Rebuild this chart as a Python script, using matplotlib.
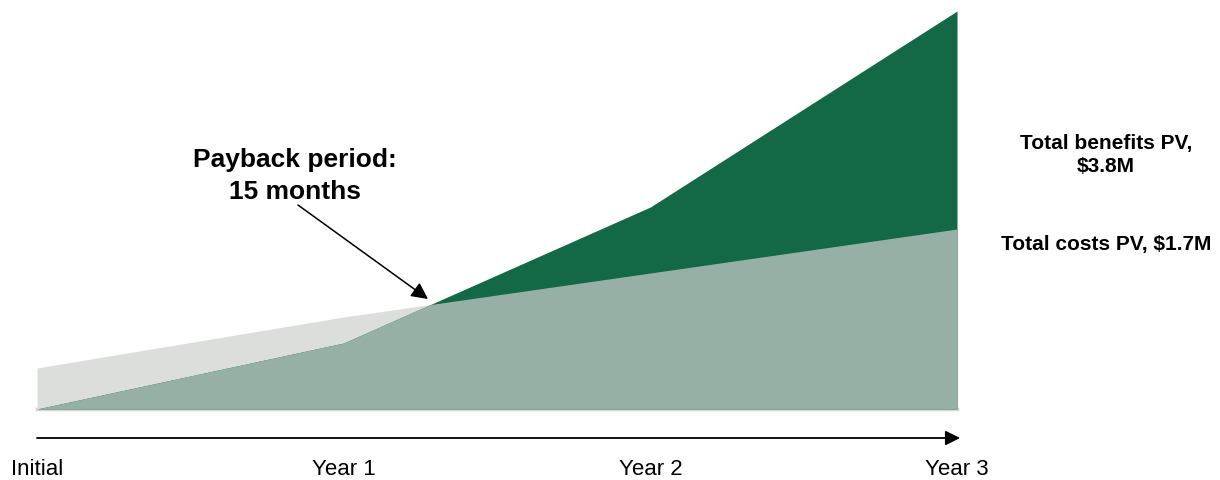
import numpy as np
import matplotlib
matplotlib.use("Agg")
import matplotlib.pyplot as plt

plt.rcParams['font.family'] = ['Liberation Sans', 'DejaVu Sans']

# data (relative heights)
periods = ["Initial", "Year 1", "Year 2", "Year 3"]
costs = [0.41, 0.92, 1.36, 1.80]
benefits = [0.00, 0.66, 2.02, 3.98]

dark_green = "#136846"
mix_green = "#97b0a5"
light_gray = "#dcdedc"

x = np.arange(len(periods))
c = np.array(costs)
b = np.array(benefits)

# find crossing points so the min/max fills have clean edges
xs = [x[0]]
cs = [c[0]]
bs = [b[0]]
for i in range(len(x) - 1):
    d0 = b[i] - c[i]
    d1 = b[i + 1] - c[i + 1]
    if d0 * d1 < 0:
        t = d0 / (d0 - d1)
        xs.append(x[i] + t)
        cs.append(c[i] + t * (c[i + 1] - c[i]))
        bs.append(b[i] + t * (b[i + 1] - b[i]))
    xs.append(x[i + 1])
    cs.append(c[i + 1])
    bs.append(b[i + 1])
xs = np.array(xs)
cs = np.array(cs)
bs = np.array(bs)

fig = plt.figure(figsize=(12.2, 4.81), dpi=100)
ax = fig.add_axes([0, 0, 1, 1])

ax.plot([x[0], x[-1]], [0, 0], color="#d4d4d4", lw=2.5, zorder=1)
ax.fill_between(xs, 0, cs, color=light_gray, lw=0, zorder=2)
ax.fill_between(xs, 0, bs, color=dark_green, lw=0, zorder=2)
ax.fill_between(xs, 0, np.minimum(cs, bs), color=mix_green, lw=0, zorder=3)

# time axis arrow
ax.annotate("", xy=(3.01, -0.29), xytext=(x[0], -0.29),
            arrowprops=dict(arrowstyle="-|>", color="black", lw=1.3,
                            mutation_scale=22, shrinkA=0, shrinkB=0))
for xi, lab in zip(x, periods):
    ax.text(xi, -0.60, lab, ha="center", va="center", fontsize=16)

# payback annotation
ax.text(0.841, 2.34, "Payback period:\n15 months", ha="center", va="center",
        fontsize=19, fontweight="bold", linespacing=1.4)
ax.annotate("", xy=(1.275, 1.10), xytext=(0.851, 2.04),
            arrowprops=dict(arrowstyle="-|>", color="black", lw=1.1,
                            mutation_scale=25, shrinkA=0, shrinkB=0))

ax.text(3.486, 2.55, "Total benefits PV,\n$3.8M", ha="center", va="center",
        fontsize=15, fontweight="bold", linespacing=1.3)
ax.text(3.486, 1.65, "Total costs PV, $1.7M", ha="center", va="center",
        fontsize=15, fontweight="bold")

ax.set_xlim(-37 / 306.67, 3 + 263 / 306.67)
ax.set_ylim(-0.71, 4.10)
ax.axis("off")

fig.savefig("out.png", dpi=100)
